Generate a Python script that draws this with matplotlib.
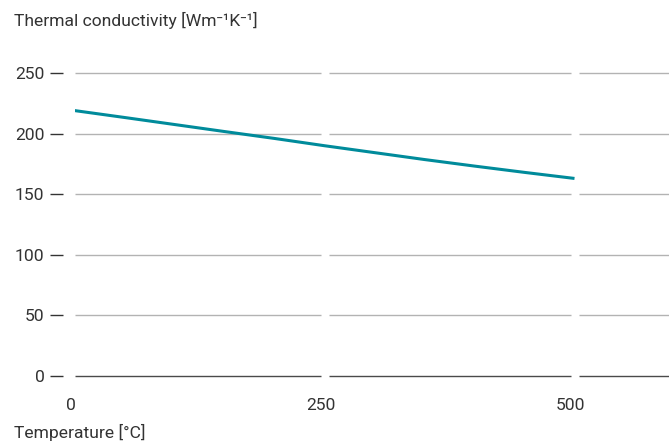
import numpy as np
import matplotlib
matplotlib.use("Agg")
import matplotlib.pyplot as plt
import matplotlib.transforms as mtransforms

plt.rcParams['font.family'] = ['Roboto', 'DejaVu Sans']

# data
temperature = [0, 50, 100, 150, 200, 250, 300, 350, 400, 450, 500]
conductivity = [219, 213.3, 207.5, 201.7, 196, 190, 184.3, 178.6, 173.2, 168, 163]

y_ticks = [0, 50, 100, 150, 200, 250]
x_ticks = [0, 250, 500]
x_label = "Temperature [°C]"
y_label = "Thermal conductivity [Wm\u207b\u00b9K\u207b\u00b9]"

text_col = "#333333"
line_col = "#008b9b"
fs = 12.6

W, H = 669, 442
fig = plt.figure(figsize=(W / 100, H / 100), dpi=100)
left, right, bottom, top = 74.5, 669, 376, 73
ax = fig.add_axes([left / W, 1 - bottom / H, (right - left) / W, (bottom - top) / H])
ax.set_xlim(0, right - left)
ax.set_ylim(0, 250)

# gridlines broken at the x ticks
gap = 4
xmax = right - left
segs = [(0, 250 - gap), (250 + gap, 500 - gap), (500 + gap, xmax)]
for yv in y_ticks:
    col = "#4a4a4a" if yv == 0 else "#b3b3b3"
    for a, b in segs:
        ax.plot([a, b], [yv, yv], color=col, lw=1.0, clip_on=False,
                solid_capstyle="butt", zorder=1)

ax.plot(temperature, conductivity, color=line_col, lw=2.2,
        solid_capstyle="butt", zorder=3)

for s in ax.spines.values():
    s.set_visible(False)
ax.spines['left'].set_position(('outward', 8.6))

ax.set_yticks(y_ticks)
ax.set_yticklabels([str(v) for v in y_ticks])
ax.tick_params(axis='y', length=9.5, width=1.0, color=text_col, pad=3.5,
               labelsize=fs, labelcolor=text_col)

ax.set_xticks(x_ticks)
ax.set_xticklabels([str(v) for v in x_ticks])
ax.tick_params(axis='x', length=0, pad=16, labelsize=fs, labelcolor=text_col)
shift = mtransforms.ScaledTranslation(-4 / 100, 0, fig.dpi_scale_trans)
for lbl in ax.get_xticklabels():
    lbl.set_transform(lbl.get_transform() + shift)

fig.text(14 / W, 1 - 20 / H, y_label, fontsize=fs, color=text_col,
         ha="left", va="center")
fig.text(14 / W, 1 - 432 / H, x_label, fontsize=fs, color=text_col,
         ha="left", va="center")

fig.savefig("out.png", dpi=100)
